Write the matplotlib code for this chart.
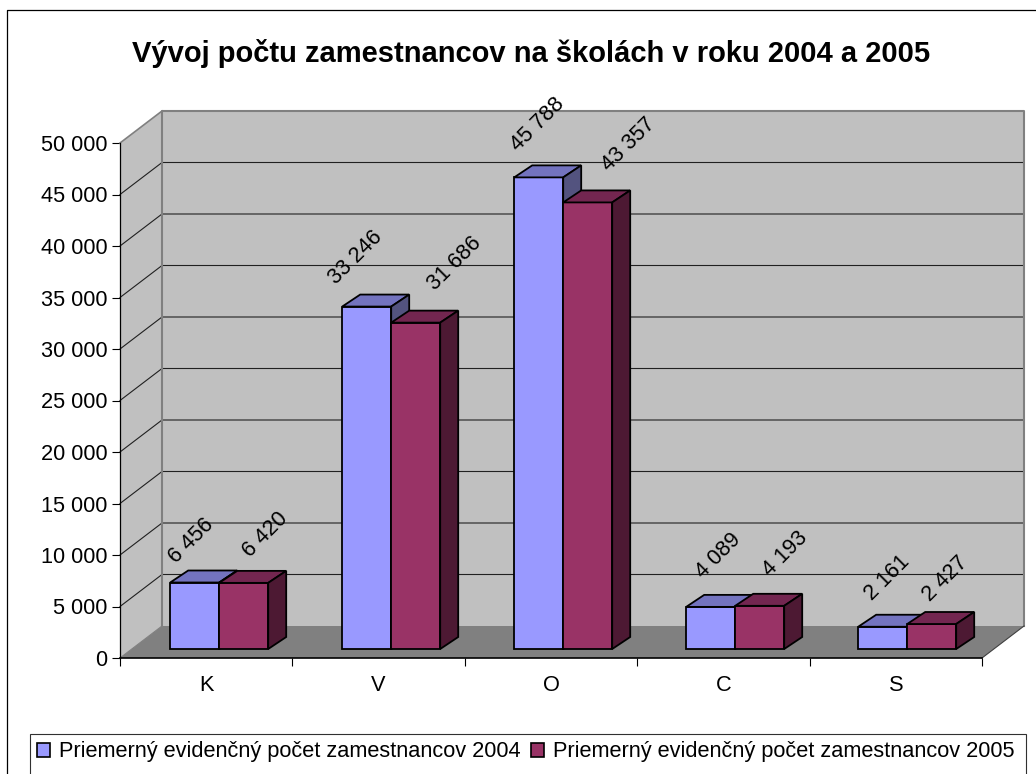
import matplotlib
matplotlib.use('Agg')
import matplotlib.pyplot as plt
from matplotlib.lines import Line2D
from matplotlib.patches import Patch, Rectangle
from matplotlib.ticker import FuncFormatter

# data
categories = ['K', 'V', 'O', 'C', 'S']
values_2004 = [6456, 33246, 45788, 4089, 2161]
values_2005 = [6420, 31686, 43357, 4193, 2427]
series_names = ['Priemerný evidenčný počet zamestnancov 2004',
                'Priemerný evidenčný počet zamestnancov 2005']
title = 'Vývoj počtu zamestnancov na školách v roku 2004 a 2005'

# label offsets from the bar top centre, in pixels (Excel puts them unevenly)
label_dx_2004 = [-3, -11, -1, 8, 5]
label_dy_2004 = [42, 49, 53, 51, 49]
label_dx_2005 = [22, 39, 41, 26, 14]
label_dy_2005 = [48, 59, 58, 52, 45]

# colours: front, top, side
colors_2004 = ['#9999FF', '#7373BF', '#53537F']
colors_2005 = ['#993366', '#732650', '#4D1933']

W, H = 1036, 774
FONT = 'Liberation Sans'
TEXT_SIZE = 15.7
plt.rcParams['font.family'] = FONT

fig = plt.figure(figsize=(W / 100, H / 100), dpi=100, facecolor='white')

# axes cover the front plane of the fake 3d box
ax = fig.add_axes([120 / W, (H - 658) / H, 862 / W, 515 / H])
ax.set_xlim(0, 5)
ax.set_ylim(0, 50000)
ax.patch.set_visible(False)

px_x = 5 / 862      # one pixel in x data units
px_y = 50000 / 515  # one pixel in y data units

wall_dx = 42 * px_x
wall_dy = 32 * px_y
bar_dx = 18 * px_x
bar_dy = 12 * px_y
bar_w = 49 * px_x
bar_shift_x = 13 * px_x
bar_shift_y = 9 * px_y
group_step = 172 * px_x


def box(x0, value, colors, z):
    # front, top and side face of one bar
    y0 = bar_shift_y
    y1 = bar_shift_y + value
    x1 = x0 + bar_w
    faces = [
        ([x0, x1, x1, x0], [y0, y0, y1, y1], colors[0]),
        ([x0, x1, x1 + bar_dx, x0 + bar_dx], [y1, y1, y1 + bar_dy, y1 + bar_dy], colors[1]),
        ([x1, x1 + bar_dx, x1 + bar_dx, x1], [y0, y0 + bar_dy, y1 + bar_dy, y1], colors[2]),
    ]
    for xs, ys, c in faces:
        ax.fill(xs, ys, facecolor=c, edgecolor='black', linewidth=1.3,
                joinstyle='miter', clip_on=False, zorder=z)


# walls and floor
ax.fill([0, wall_dx, wall_dx, 0], [0, wall_dy, 50000 + wall_dy, 50000],
        facecolor='#C0C0C0', edgecolor='none', clip_on=False, zorder=1)
ax.fill([wall_dx, 5 + wall_dx, 5 + wall_dx, wall_dx],
        [wall_dy, wall_dy, 50000 + wall_dy, 50000 + wall_dy],
        facecolor='#C0C0C0', edgecolor='none', clip_on=False, zorder=1)
ax.fill([0, 5, 5 + wall_dx, wall_dx], [0, 0, wall_dy, wall_dy],
        facecolor='#808080', edgecolor='none', clip_on=False, zorder=2)

# gridlines
yticks = list(range(0, 50001, 5000))
for v in yticks[1:-1]:
    ax.plot([0, wall_dx, 5 + wall_dx], [v, v + wall_dy, v + wall_dy],
            color='#202020', lw=0.8, clip_on=False, zorder=3)
ax.plot([wall_dx, wall_dx, 5 + wall_dx, 5 + wall_dx],
        [wall_dy, 50000 + wall_dy, 50000 + wall_dy, wall_dy],
        color='#808080', lw=1.5, clip_on=False, zorder=3)
ax.plot([0, wall_dx], [50000, 50000 + wall_dy], color='#808080', lw=1.2,
        clip_on=False, zorder=3)
ax.plot([5, 5 + wall_dx], [0, wall_dy], color='#404040', lw=0.8,
        clip_on=False, zorder=3)
ax.plot([0, wall_dx], [0, wall_dy], color='#808080', lw=0.8,
        clip_on=False, zorder=3)

# bars and their labels
label_font = dict(fontsize=TEXT_SIZE, rotation=45, rotation_mode='anchor',
                  ha='center', va='center', color='black', zorder=20)
for i, cat in enumerate(categories):
    left = 0.5 + bar_shift_x - bar_w + i * group_step
    box(left, values_2004[i], colors_2004, 5 + i * 2)
    box(left + bar_w, values_2005[i], colors_2005, 6 + i * 2)
    for x, value, dx, dy in [
        (left + bar_w / 2, values_2004[i], label_dx_2004[i], label_dy_2004[i]),
        (left + 1.5 * bar_w, values_2005[i], label_dx_2005[i], label_dy_2005[i]),
    ]:
        ax.annotate(f'{value:,}'.replace(',', ' '),
                    xy=(x, bar_shift_y + value), xytext=(dx, dy),
                    textcoords='offset pixels', annotation_clip=False, **label_font)

# axes, ticks
for side in ['top', 'right']:
    ax.spines[side].set_visible(False)
ax.spines['left'].set_linewidth(0.9)
ax.spines['bottom'].set_linewidth(1.2)
ax.spines['left'].set_zorder(4)
ax.spines['bottom'].set_zorder(4)
ax.set_yticks(yticks)
ax.yaxis.set_major_formatter(FuncFormatter(lambda v, p: f'{int(v):,}'.replace(',', ' ')))
ax.tick_params(axis='y', length=6, width=0.8, pad=3, labelsize=TEXT_SIZE)
ax.set_xticks(range(6))
ax.set_xticklabels([])
ax.tick_params(axis='x', which='major', length=6, width=0.8)
ax.set_xticks([i + 0.5 for i in range(5)], minor=True)
ax.set_xticklabels(categories, minor=True, fontsize=TEXT_SIZE)
ax.tick_params(axis='x', which='minor', length=0, pad=12)

# title
fig.text(531 / W, 1 - 54 / H, title, fontsize=21, fontweight='bold',
         ha='center', va='center', family=FONT)

# chart border, right and bottom fall outside the picture
fig.add_artist(Line2D([7 / W, 7 / W, 1], [0, 1 - 10 / H, 1 - 10 / H],
                      color='black', lw=0.9))

# legend box is cut by the lower edge of the picture
fig.add_artist(Rectangle((29.5 / W, -0.02), (1025.5 - 29.5) / W, 1 - 733.5 / H + 0.02,
                         facecolor='white', edgecolor='#303030', lw=0.8,
                         transform=fig.transFigure))
handles = [Patch(facecolor=colors_2004[0], edgecolor='black', lw=1.2),
           Patch(facecolor=colors_2005[0], edgecolor='black', lw=1.2)]
fig.legend(handles, series_names, ncol=2, frameon=False, fontsize=TEXT_SIZE,
           loc='center', bbox_to_anchor=(526 / W, 1 - 752 / H),
           handlelength=0.6, handleheight=0.6, handletextpad=0.42,
           columnspacing=0.46, borderpad=0, borderaxespad=0)

fig.savefig('out.png', dpi=100, facecolor='white')
